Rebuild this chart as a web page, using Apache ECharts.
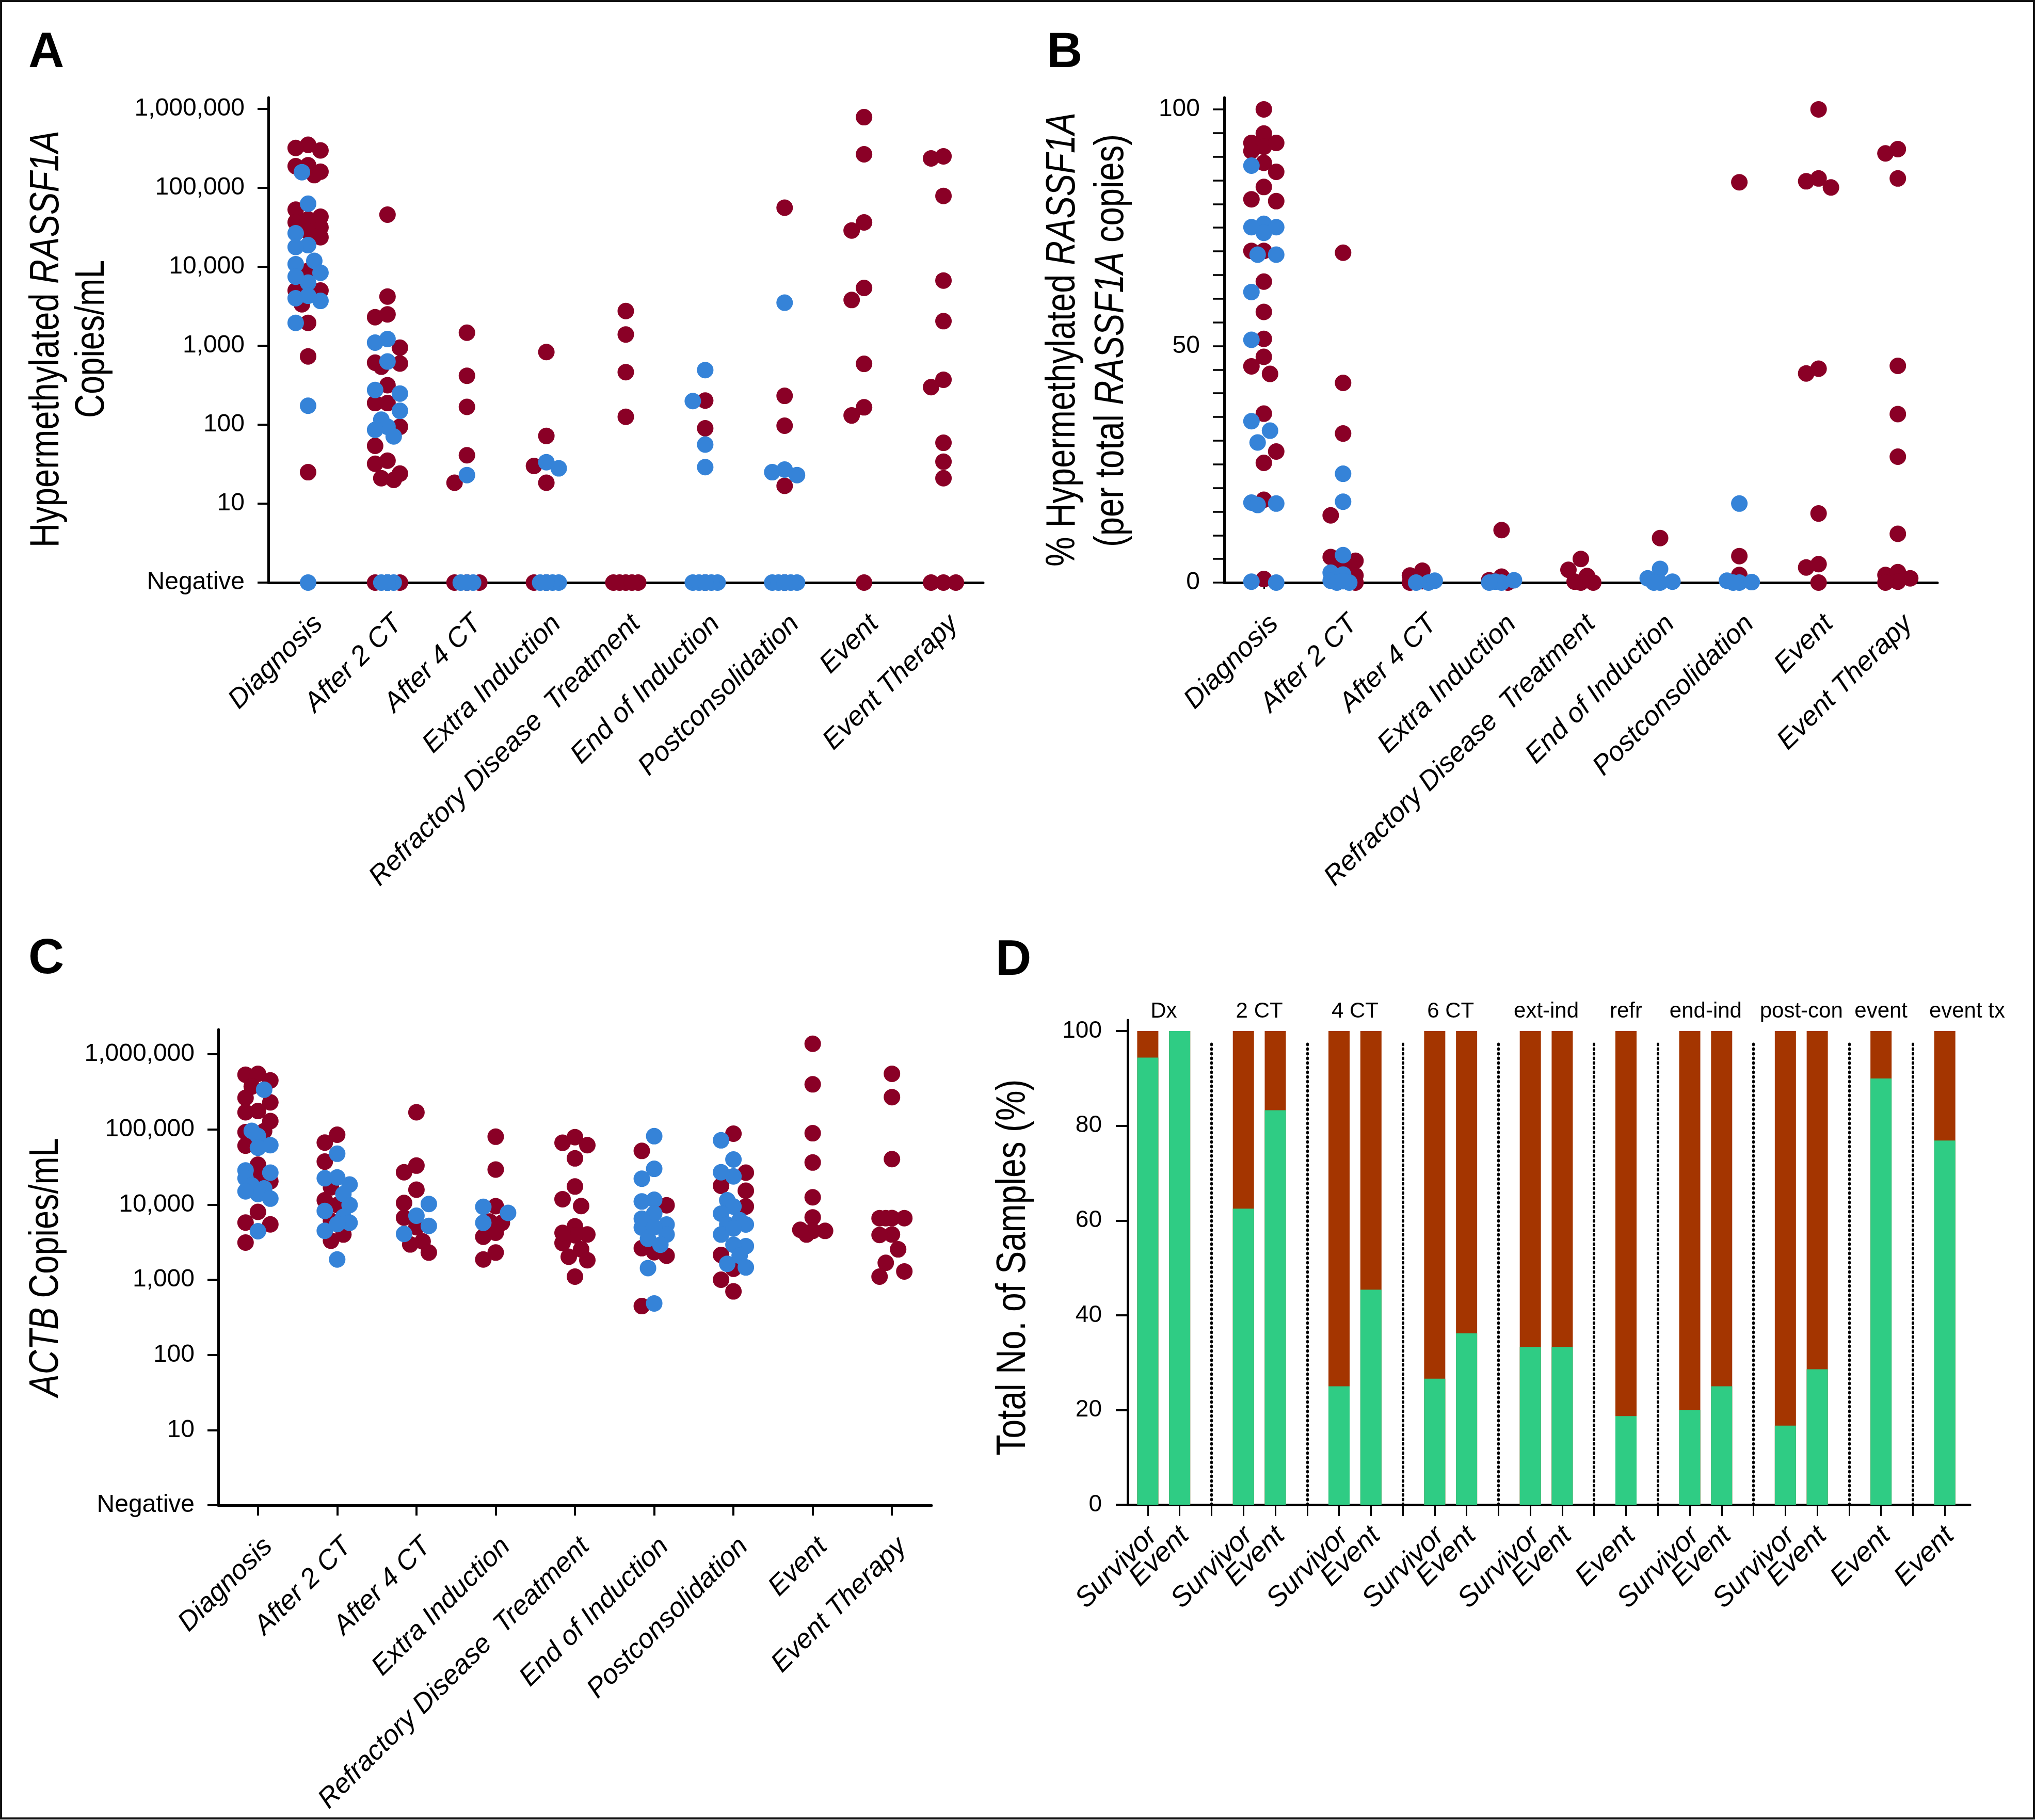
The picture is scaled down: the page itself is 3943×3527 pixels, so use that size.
<!DOCTYPE html>
<html><head><meta charset="utf-8">
<script src="https://cdn.jsdelivr.net/npm/echarts@6/dist/echarts.min.js"></script>
<style>html,body{margin:0;padding:0;background:#fff}#c{width:3943px;height:3527px}</style>
</head><body><div id="c"></div>
<script>
// ---------------- DATA ----------------
const categories = ['Diagnosis','After 2 CT','After 4 CT','Extra Induction','Refractory Disease  Treatment','End of Induction','Postconsolidation','Event','Event Therapy'];
const logTickLabels = ['Negative','10','100','1,000','10,000','100,000','1,000,000'];
const pctTickLabels = ['0','50','100'];
const dTickLabels = ['0','20','40','60','80','100'];

// Panel A: hypermethylated RASSF1A copies/mL (0 = Negative); one sub-array per category
const aEvent = [
  [351000,298000,320000,188000,145000,193000,160000,53000,43000,36700,31600,23700,40000,28000,8900,5000,5000,3350,1950,733,25],
  [45700,4200,2300,2500,945,610,543,596,316,188,188,94,54,35,32,24,20,21,0,0,0],
  [1462,417,168,41,18.4,0,0,0],
  [832,72,30,18.4,0,0],
  [2750,1390,463,126,0,0,0,0,0],
  [202,90,0],
  [56000,232,97,16.8,0],
  [785000,266000,28800,36500,3800,5400,590,131,166,0],
  [236000,251000,79000,6700,2050,299,371,59,34,21,0,0,0]
];
const aSurvivor = [
  [158000,63000,26600,18800,17800,10800,11900,8400,7500,6300,4000,4300,3700,1950,174,0],
  [1216,1096,631,275,248,150,116,94,86,71,0,0,0,0,0],
  [23,0,0,0],
  [33.5,28,0,0,0,0,0],
  [],
  [492,199,56,29,0,0,0,0,0,0],
  [3510,25,23,27,0,0,0,0,0,0],
  [],
  []
];
// Panel B: % hypermethylated RASSF1A
const bEvent = [
  [100,94.9,92.9,92.1,92.9,91.2,88.7,86.8,83.6,80.6,81.0,70.1,70.1,63.6,57.2,51.5,47.7,44.1,45.7,35.7,27.7,25.3,17.5,0.75],
  [69.7,42.2,31.5,14.2,3.8,4.6,5.4,3.6,1.5,0.5,0],
  [2.5,1.5,0.3,0],
  [11.1,1.25,0.5,0],
  [5.0,2.7,1.4,0,0,0.2],
  [9.4],
  [84.6,5.6,1.6],
  [100,85.4,84.8,83.5,44.2,45.2,14.6,3.2,3.9,0],
  [90.7,91.6,85.4,45.8,35.6,26.6,10.3,1.6,2.2,0.2,0,0.9]
];
const bSurvivor = [
  [88.1,75.8,75.1,73.9,75.1,69.3,69.3,61.4,51.3,32.1,34.1,29.6,16.9,16.4,16.7,0,0.2],
  [23.0,17.1,5.8,2.1,0.8,0.4,1.7,0,0,0.3],
  [0,0,0.4],
  [0,0.2,0.5,0],
  [],
  [2.9,0.9,0,0,0.2],
  [16.7,0.4,0,0,0.1],
  [],
  []
];
// Panel C: ACTB copies/mL
const cEvent = [
  [535000,550000,448000,372000,263000,229000,169000,176000,129000,95000,92000,60700,34000,20400,23000,8000,5450,5760,3125],
  [66800,85000,37300,9880,11400,6090,3310,17000,4000],
  [169000,26900,33000,15800,10500,6700,5000,3240,2950,2300],
  [80000,29300,9530,5950,5730,4220,3730,1860,2300],
  [66400,79000,61700,41200,17400,11800,9550,5130,4000,3080,2540,2020,1820,1100,3900,4200],
  [51800,2320,2630,2090,446,9800],
  [87700,26600,17800,15300,9430,2140,1400,1000,700],
  [1380000,398000,89000,36300,12500,6760,4470,4000,4470,4620],
  [550000,269000,40300,6600,6600,6600,6610,4000,3940,2540,1680,1290,1100]
];
const cSurvivor = [
  [338000,95700,81700,61800,57000,26600,28500,22400,18000,16400,13800,15000,12000,4420],
  [47500,23000,22400,18500,13800,9880,8220,6850,5730,4480,5500,1860],
  [10200,7100,5200,4070],
  [7760,9330,5730],
  [],
  [81300,29900,22100,11600,11000,7580,5430,4950,4000,3500,2920,1430,484,6500,5000],
  [71600,39800,23700,26900,11400,9430,7580,5430,5430,4000,2800,2920,2090,1630,1460,6200,4800],
  [],
  []
];
// Panel D: % bars ('' = separator slot); green share, rest of 100 % is brown
const dSlotLabels = ['Survivor','Event','','Survivor','Event','','Survivor','Event','','Survivor','Event','','Survivor','Event','','Event','','Survivor','Event','','Survivor','Event','','Event','','Event'];
const dGreenPct = [94.4,100,null,62.5,83.3,null,25,45.4,null,26.6,36.2,null,33.3,33.3,null,18.7,null,20,25,null,16.7,28.6,null,90,null,76.9];
const dTotalPct = 100;
const dGroupNames = ['Dx','2 CT','4 CT','6 CT','ext-ind','refr','end-ind','post-con','event','event tx'];

// ---------------- STYLE / LAYOUT ----------------
const RED = '#8a0026', BLUE = '#3583d8', GREEN = '#2fcc84', BROWN = '#a43500';
const SANS = "'Liberation Sans', Arial, sans-serif";
const G = {
  A: {left:520, top:189, width:1385, height:940, yMax:6.144},
  B: {left:2372, top:189, width:1382, height:940, yMax:102.5},
  C: {left:423, top:1995, width:1382, height:922, yMax:6.33},
  D: {left:2185, top:1977, width:1632, height:939, yMax:102.3, xMin:-0.63, xMax:25.79}
};
const lastGroupLabelShift = 0.7;
const catLabelShift = 0.13, dLabelShift = 0.16;   // rotated label anchor nudge (axis units)
const TITLE_SIZE = 79;

function fontAvailable(name){
  const ctx = document.createElement('canvas').getContext('2d');
  const s = 'Hypermethylated RASSF1A mmwwiil 0123';
  return ['monospace','serif','sans-serif'].some(fb=>{
    ctx.font = '72px ' + fb; const w1 = ctx.measureText(s).width;
    ctx.font = "72px '" + name + "', " + fb; const w2 = ctx.measureText(s).width;
    return Math.abs(w1-w2) > 0.5;
  });
}
let TITLE_FAMILY = "'Liberation Sans'";
for (const f of ['Liberation Sans Narrow','Arial Narrow']) {
  if (fontAvailable(f)) { TITLE_FAMILY = "'" + f + "'"; break; }
}
function measureParts(parts, size){
  const ctx = document.createElement('canvas').getContext('2d');
  let w = 0;
  parts.forEach(p=>{ ctx.font = (p.i ? 'italic ' : '') + size + 'px ' + TITLE_FAMILY; w += ctx.measureText(p.t).width; });
  return w;
}
// axis titles: condensed look obtained by a horizontal scale of the text element
function titleText(x, y, parts, targetLen){
  const sx = targetLen / measureParts(parts, TITLE_SIZE);
  const txt = parts.map(p => '{' + (p.i ? 'i' : 'n') + '|' + p.t + '}').join('');
  return {type:'text', x, y, rotation: Math.PI/2, scaleX: sx, scaleY: 1, silent:true, style:{
    x:0, y:0, text: txt, align:'center', verticalAlign:'middle', fill:'#000',
    rich:{ n:{fontFamily:TITLE_FAMILY, fontSize:TITLE_SIZE, fill:'#000'},
           i:{fontFamily:TITLE_FAMILY, fontSize:TITLE_SIZE, fontStyle:'italic', fill:'#000'} }
  }};
}
function panelLetter(t, x, y){
  return {type:'text', x, y, silent:true, style:{text:t, fontFamily:SANS, fontWeight:'bold', fontSize:96, fill:'#000', align:'left', verticalAlign:'middle'}};
}

const range = n => Array.from({length:n}, (_, i) => i);
const logY = v => v > 0 ? Math.log10(v) : 0;
const fmtLog = v => logTickLabels[Math.round(v)];

function catXAxis(gi, tickLen, tickW){
  return {type:'value', gridIndex:gi, min:-0.5, max:categories.length-0.5,
    axisLine:{show:true, onZero:false, lineStyle:{color:'#000', width:5}},
    axisTick:{show:true, length:tickLen, lineStyle:{color:'#000', width:tickW}, customValues: range(categories.length)},
    axisLabel:{show:true, rotate:45, margin:72, fontSize:53, lineHeight:30, fontStyle:'italic', fontFamily:SANS, color:'#000',
      showMinLabel:true, showMaxLabel:true, hideOverlap:false,
      customValues: range(categories.length).map(i => i + catLabelShift), formatter: v => categories[Math.round(v)]},
    splitLine:{show:false}};
}
function logYAxis(gi, max){
  return {type:'value', gridIndex:gi, min:0, max,
    axisLine:{show:true, onZero:false, lineStyle:{color:'#000', width:5}},
    axisTick:{show:true, length:21, lineStyle:{color:'#000', width:4}, customValues: range(7)},
    axisLabel:{show:true, margin:46, fontSize:48, fontFamily:SANS, color:'#000', showMinLabel:true, showMaxLabel:true,
      customValues: range(7), formatter: fmtLog},
    splitLine:{show:false}};
}
// D slot label axis (one per label word so neighbouring rotated labels never collide)
function dLabelAxis(gi, word, withLineAndTicks){
  return {type:'value', gridIndex:gi, min:G.D.xMin, max:G.D.xMax,
    axisLine:{show:withLineAndTicks, onZero:false, lineStyle:{color:'#000', width:5}},
    axisTick:{show:withLineAndTicks, length:22, lineStyle:{color:'#000', width:3}, customValues: range(dSlotLabels.length)},
    axisLabel:{show:true, rotate:45, margin:52, fontSize:54, lineHeight:30, fontStyle:'italic', fontFamily:SANS, color:'#000',
      showMinLabel:true, showMaxLabel:true, hideOverlap:false,
      customValues: range(dSlotLabels.length).filter(i => dSlotLabels[i] === word).map(i => i + dLabelShift),
      formatter: v => dSlotLabels[Math.round(v)]},
    splitLine:{show:false}};
}

// panel D derived pieces
const dBarSlots = range(dSlotLabels.length).filter(i => dGreenPct[i] != null);
const dSepSlots = range(dSlotLabels.length).filter(i => dSlotLabels[i] === '');
const dGroups = []; { let cur = []; dSlotLabels.forEach((l, i) => { if (l === '') { if (cur.length) dGroups.push(cur); cur = []; } else cur.push(i); }); if (cur.length) dGroups.push(cur); }
const dGroupCenters = dGroups.map((g, k) => g.reduce((a, b) => a + b, 0) / g.length + (k === dGroups.length - 1 ? lastGroupLabelShift : 0));

const scatterBase = (id, xi, color) => ({id, type:'scatter', xAxisIndex:xi, yAxisIndex:xi, symbol:'circle', symbolSize:32,
  itemStyle:{color, opacity:1}, emphasis:{disabled:true}, silent:true, data:[]});

const dGrid = {left:G.D.left, top:G.D.top, width:G.D.width, height:G.D.height, outerBoundsMode:'none'};
const option = {
  backgroundColor:'#fff', animation:false,
  textStyle:{fontFamily:SANS},
  grid:[
    {left:G.A.left, top:G.A.top, width:G.A.width, height:G.A.height, outerBoundsMode:'none'},
    {left:G.B.left, top:G.B.top, width:G.B.width, height:G.B.height, outerBoundsMode:'none'},
    {left:G.C.left, top:G.C.top, width:G.C.width, height:G.C.height, outerBoundsMode:'none'},
    dGrid,
    Object.assign({}, dGrid)
  ],
  xAxis:[
    catXAxis(0, 12, 3),
    catXAxis(1, 12, 3),
    catXAxis(2, 20, 4),
    dLabelAxis(3, 'Survivor', true),
    {type:'value', gridIndex:3, position:'top', min:G.D.xMin, max:G.D.xMax,
      axisLine:{show:false, onZero:false}, axisTick:{show:false}, splitLine:{show:false},
      axisLabel:{show:true, margin:-4, fontSize:42, fontFamily:SANS, color:'#000', showMinLabel:true, showMaxLabel:true, customValues: dGroupCenters,
        formatter: v => { const k = dGroupCenters.findIndex(c => Math.abs(c - v) < 1e-6); return k >= 0 ? dGroupNames[k] : ''; }}},
    dLabelAxis(4, 'Event', false)
  ],
  yAxis:[
    logYAxis(0, G.A.yMax),
    {type:'value', gridIndex:1, min:0, max:G.B.yMax,
      axisLine:{show:true, onZero:false, lineStyle:{color:'#000', width:5}},
      axisTick:{show:true, length:22, lineStyle:{color:'#000', width:3.5}, customValues: range(21).map(i => i*5)},
      axisLabel:{show:true, margin:47, fontSize:48, fontFamily:SANS, color:'#000', showMinLabel:true, showMaxLabel:true,
        customValues:[0,50,100], formatter: v => pctTickLabels[Math.round(v/50)]},
      splitLine:{show:false}},
    logYAxis(2, G.C.yMax),
    {type:'value', gridIndex:3, min:0, max:G.D.yMax,
      axisLine:{show:true, onZero:false, lineStyle:{color:'#000', width:5}},
      axisTick:{show:true, length:23, lineStyle:{color:'#000', width:4}, customValues: range(6).map(i => i*20)},
      axisLabel:{show:true, margin:50, fontSize:46, fontFamily:SANS, color:'#000', showMinLabel:true, showMaxLabel:true,
        customValues: range(6).map(i => i*20), formatter: v => dTickLabels[Math.round(v/20)]},
      splitLine:{show:false}},
    {type:'value', gridIndex:4, min:0, max:G.D.yMax, show:false}
  ],
  series:[
    scatterBase('aE', 0, RED), scatterBase('aS', 0, BLUE),
    scatterBase('bE', 1, RED), scatterBase('bS', 1, BLUE),
    scatterBase('cE', 2, RED), scatterBase('cS', 2, BLUE),
    {id:'dT', name:'Total (%)', type:'bar', xAxisIndex:3, yAxisIndex:3, barWidth:41, barGap:'-100%',
      itemStyle:{color:BROWN}, emphasis:{disabled:true}, silent:true,
      data: dBarSlots.map(i => [i, dTotalPct]),
      markLine:{silent:true, symbol:['none','none'], label:{show:false}, emphasis:{disabled:true},
        lineStyle:{color:'#000', width:5, type:[2,7], cap:'round'},
        data: dSepSlots.map(s => [{coord:[s, 0]}, {coord:[s, 98]}])}},
    {id:'dG', name:'Share (%)', type:'bar', xAxisIndex:3, yAxisIndex:3, barWidth:41, barGap:'-100%',
      itemStyle:{color:GREEN}, emphasis:{disabled:true}, silent:true,
      data: dBarSlots.map(i => [i, dGreenPct[i]])}
  ],
  graphic:[
    {type:'rect', silent:true, shape:{x:2, y:2, width:3939, height:3522}, style:{fill:'none', stroke:'#111', lineWidth:4}},
    panelLetter('A', 55, 104), panelLetter('B', 2028, 104), panelLetter('C', 55, 1860), panelLetter('D', 1929, 1863),
    titleText(91, 657, [{t:'Hypermethylated '}, {t:'RASSF1A', i:true}], 808),
    titleText(179, 657, [{t:'Copies/mL'}], 306),
    titleText(2060, 658, [{t:'% Hypermethylated '}, {t:'RASSF1A', i:true}], 880),
    titleText(2154, 660, [{t:'(per total '}, {t:'RASSF1A', i:true}, {t:' copies)'}], 800),
    titleText(90, 2456, [{t:'ACTB', i:true}, {t:' Copies/mL'}], 501),
    titleText(1964, 2456, [{t:'Total No. of Samples (%)'}], 729)
  ]
};

const chart = echarts.init(document.getElementById('c'), null, {renderer:'canvas', width:3943, height:3527});
chart.setOption(option);

// beeswarm layout of dots (pixel space via the chart's own scales)
function swarmOffsets(pys, step, minDist){
  const order = pys.map((p, i) => i).sort((a, b) => pys[a] - pys[b]);
  const cands = [0, -step/2, step/2, -step, step];
  const placed = [], off = new Array(pys.length);
  for (const i of order) {
    let best = 0, bestD = -1;
    for (const c of cands) {
      let d = Infinity;
      for (const p of placed) d = Math.min(d, Math.hypot(c - p.x, pys[i] - p.y));
      if (d >= minDist) { best = c; bestD = d; break; }
      if (d > bestD) { bestD = d; best = c; }
    }
    placed.push({x:best, y:pys[i]}); off[i] = best;
  }
  return off;
}
function swarm(gridIndex, evCols, svCols, tf){
  const px = (x, y) => chart.convertToPixel({gridIndex}, [x, y]);
  const unit = px(1, 0)[0] - px(0, 0)[0];
  const ev = [], sv = [];
  categories.forEach((c, ci) => {
    const items = [];
    (evCols[ci] || []).forEach(v => items.push({e:true, y:tf(v)}));
    (svCols[ci] || []).forEach(v => items.push({e:false, y:tf(v)}));
    const off = swarmOffsets(items.map(it => px(ci, it.y)[1]), 24, 31);
    items.forEach((it, k) => (it.e ? ev : sv).push([ci + off[k] / unit, it.y]));
  });
  return [ev, sv];
}
const [aE, aS] = swarm(0, aEvent, aSurvivor, logY);
const [bE, bS] = swarm(1, bEvent, bSurvivor, v => v);
const [cE, cS] = swarm(2, cEvent, cSurvivor, logY);
chart.setOption({series:[{id:'aE', data:aE}, {id:'aS', data:aS}, {id:'bE', data:bE}, {id:'bS', data:bS}, {id:'cE', data:cE}, {id:'cS', data:cS}]});
</script>
</body></html>
